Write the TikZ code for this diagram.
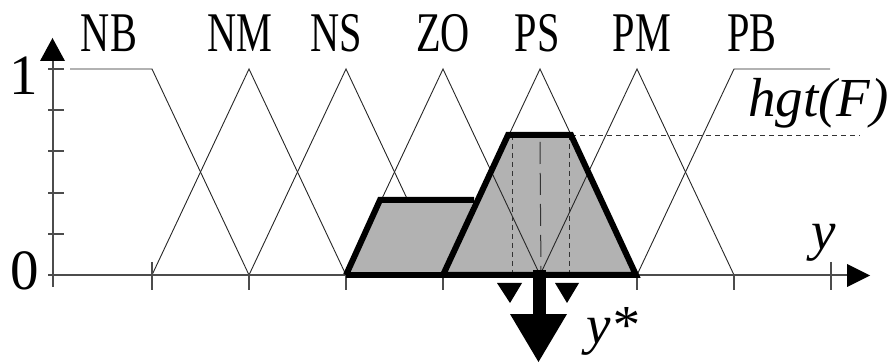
\documentclass[tikz,border=0pt]{standalone}
\usepackage{fontspec}
\setmainfont{LiberationSerif}[Extension=.ttf, UprightFont=*-Regular, ItalicFont=*-Italic, BoldFont=*-Bold]
\newfontfamily\condfont{LiberationSerif}[Extension=.ttf, UprightFont=*-Regular, FakeStretch=0.72]
\begin{document}
\begin{tikzpicture}[x=1pt,y=-1pt,
  mf/.style={line width=0.9pt, black!85},
  axisline/.style={line width=1.6pt, black!70},
  tickline/.style={line width=1.3pt, black!70},
  outline/.style={line width=6pt, line join=miter, black},
  shade/.style={fill=black!30},
  lbl/.style={anchor=base, inner sep=0pt, font=\condfont\fontsize{56}{60}\selectfont},
  num/.style={anchor=base, inner sep=0pt, font=\fontsize{57}{60}\selectfont},
  ital/.style={anchor=base west, inner sep=0pt, font=\itshape\fontsize{55}{60}\selectfont},
  guide/.style={line width=0.9pt, black!80, dash pattern=on 5pt off 4pt},
  center guide/.style={line width=1pt, black!80, dash pattern=on 22pt off 9pt},
  solidtri/.style={fill=black, draw=none}]
\useasboundingbox (0,0) rectangle (894,363);

% big trapezoid fill (under the lines)
\fill[shade] (443,275) -- (508,135) -- (571,135) -- (636,275) -- cycle;

% membership functions
\draw[mf] (70,69) -- (152,69) -- (249,275);            % NB
\draw[mf] (152,275) -- (249,69) -- (346,275);          % NM
\draw[mf] (249,275) -- (346,69) -- (443,275);          % NS
\draw[mf] (346,275) -- (443,69) -- (540,275);          % ZO
\draw[mf] (443,275) -- (540,69) -- (637,275);          % PS
\draw[mf] (540,275) -- (637,69) -- (734,275);          % PM
\draw[mf] (637,275) -- (734,69) -- (830,69);           % PB

% axes
\draw[axisline] (53,287) -- (53,58);
\fill (40,61) -- (65,61) -- (52.5,38) -- cycle;
\draw[axisline] (48,275) -- (849,275);
\fill (847,264) -- (847,287) -- (870,275.5) -- cycle;
\foreach \yy in {69,110,151,193,234} \draw[tickline] (48,\yy) -- (64,\yy);
\foreach \xx in {249,346,443,637,734} \draw[tickline] (\xx,275) -- (\xx,290);
\foreach \xx in {152,831} \draw[tickline] (\xx,262) -- (\xx,290);

% left clipped shape
\fill[shade] (346,275) -- (380,200) -- (474,200) -- (443,275) -- cycle;

% guides
\draw[guide] (571,135) -- (860,135);
\draw[guide] (512,135) -- (512,275);
\draw[guide] (569,135) -- (569,275);
\draw[center guide] (540,142) -- (541,275);

% thick outlines
\draw[outline] (346,275) -- (380,200) -- (474,200);
\draw[outline] (346,275) -- (443,275);
\draw[outline] (443,275) -- (508,135) -- (571,135) -- (636,275) -- cycle;

% output arrow and markers
\fill (533,270) rectangle (546,316);
\fill (510,314) -- (567,314) -- (538.5,362) -- cycle;
\fill[solidtri] (497,283) -- (522,283) -- (510,303) -- cycle;
\fill[solidtri] (555,283) -- (579,283) -- (567,303) -- cycle;

% labels
\node[lbl] (nb) at (109,52) {NB};
\node[lbl] (nm) at (240,52) {NM};
\node[lbl] (ns) at (336,52) {NS};
\node[lbl] (zo) at (443,52) {ZO};
\node[lbl] (ps) at (537,52) {PS};
\node[lbl] (pm) at (642,52) {PM};
\node[lbl] (pb) at (752,52) {PB};
\node[num] (one) at (24,95) {1};
\node[num] (zero) at (25,290) {0};
\node[ital] (hgt) at (748,117) {hgt(F)};
\node[ital] (yax) at (811,250) {y};
\node[ital] (ystar) at (586,343) {y*};
\end{tikzpicture}
\end{document}
